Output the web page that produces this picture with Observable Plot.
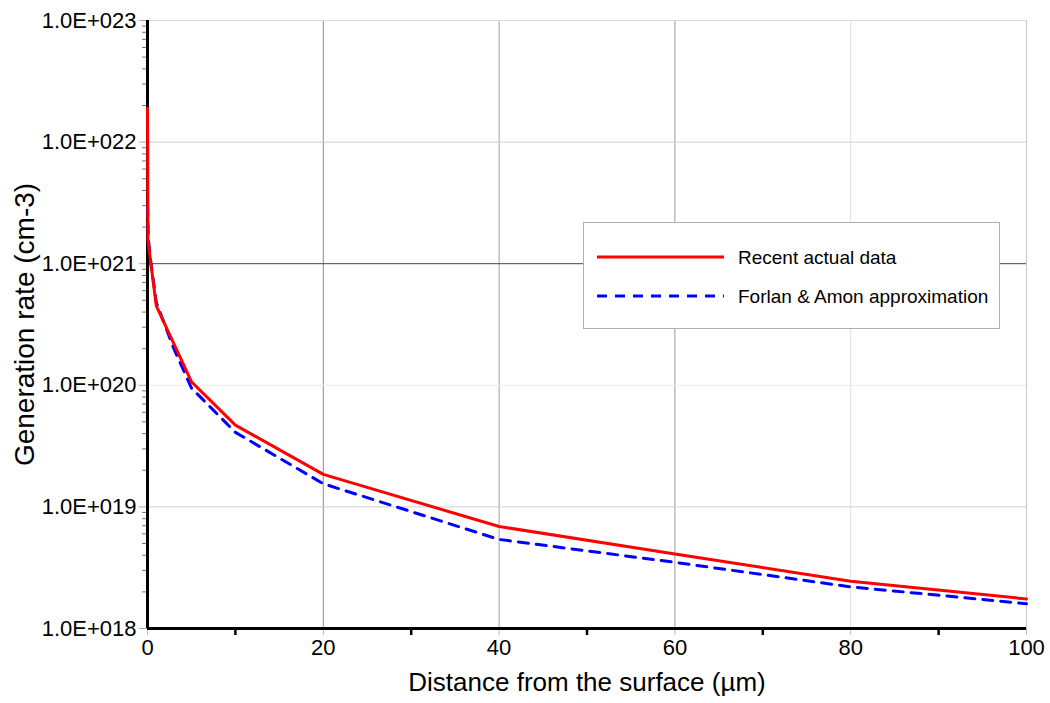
<!DOCTYPE html>
<html>
<head>
<meta charset="utf-8">
<script src="https://cdn.jsdelivr.net/npm/d3@7"></script>
<script src="https://cdn.jsdelivr.net/npm/@observablehq/plot@0.6"></script>
<style>
  body { margin: 0; background: #fff; }
  #wrap { position: relative; width: 1050px; height: 703px; font-family: "Liberation Sans", Arial, sans-serif; }
  #legend { position: absolute; left: 583px; top: 222px; width: 415px; height: 105px; border: 1px solid #b0b0b0; background: #fff; }
  #legend svg { overflow: visible; }
</style>
</head>
<body>
<div id="wrap">
  <div id="chart"></div>
  <div id="legend"></div>
</div>
<script>
// ---- Data ----
const seriesNames = ["Recent actual data", "Forlan & Amon approximation"];
const distanceActual = [0, 0.05, 1, 5, 10, 20, 40, 60, 80, 100];
const rateActual = [1.9e22, 1.55e21, 4.5e20, 1.07e20, 4.7e19, 1.85e19, 6.9e18, 4.1e18, 2.45e18, 1.75e18];
const distanceApprox = [0, 0.1, 0.4, 1, 3, 5, 10, 20, 40, 60, 80, 100];
const rateApprox = [3.0e21, 1.6e21, 1.0e21, 4.8e20, 2.0e20, 9.5e19, 4.1e19, 1.55e19, 5.4e18, 3.5e18, 2.2e18, 1.6e18];
const xTicks = [0, 20, 40, 60, 80, 100];
const xMinorTicks = [10, 30, 50, 70, 90];
const yTicks = [1e18, 1e19, 1e20, 1e21, 1e22, 1e23];
const xTitle = "Distance from the surface (µm)";
const yTitle = "Generation rate (cm-3)";

const actual = distanceActual.map((d, i) => ({x: d, y: rateActual[i]}));
const approx = distanceApprox.map((d, i) => ({x: d, y: rateApprox[i]}));
const yMinor = [];
for (let e = 18; e < 23; e++) for (let m = 2; m <= 9; m++) yMinor.push(m * Math.pow(10, e));
const fmt = d => "1.0E+" + String(Math.round(Math.log10(d))).padStart(3, "0");

const chart = Plot.plot({
  width: 1050, height: 703,
  marginLeft: 147, marginRight: 24, marginTop: 20, marginBottom: 75,
  style: {fontFamily: "Liberation Sans, Arial, sans-serif", fontSize: "22px", color: "black", background: "white", overflow: "visible"},
  x: {domain: [0, 100]},
  y: {type: "log", domain: [1e18, 1e23]},
  marks: [
    Plot.gridX([20], {stroke: "#8c8c8c", strokeOpacity: 1}),
    Plot.gridX([40], {stroke: "#a0a0a0", strokeOpacity: 1}),
    Plot.gridX([60], {stroke: "#9a9a9a", strokeOpacity: 1}),
    Plot.gridX([80], {stroke: "#e0e0e0", strokeOpacity: 1}),
    Plot.gridY([1e19], {stroke: "#d0d0d0", strokeOpacity: 1}),
    Plot.gridY([1e20], {stroke: "#ececec", strokeOpacity: 1}),
    Plot.gridY([1e21], {stroke: "#444", strokeOpacity: 1}),
    Plot.gridY([1e22], {stroke: "#cfcfcf", strokeOpacity: 1}),
    Plot.gridY([1e23], {stroke: "#dcdcdc", strokeOpacity: 1}),
    Plot.ruleX([100], {stroke: "#c8c8c8"}),
    Plot.axisY(yMinor, {tickSize: 5, tickFormat: () => "", stroke: "#777", label: null}),
    Plot.axisY(yTicks, {tickSize: 8, tickPadding: 3, tickFormat: fmt, stroke: "#aaa", fontSize: 22, label: null}),
    Plot.axisX(xTicks, {tickSize: 7, tickPadding: 4, stroke: "#bbb", fontSize: 22, label: null}),
    Plot.axisX(xMinorTicks, {tickSize: 7, strokeWidth: 2.5, stroke: "black", tickFormat: () => "", label: null}),
    Plot.ruleX([0], {stroke: "black", strokeWidth: 3}),
    Plot.ruleY([1e18], {stroke: "black", strokeWidth: 3}),
    Plot.line(approx, {x: "x", y: "y", stroke: "#0000ff", strokeWidth: 3, strokeDasharray: "10,8"}),
    Plot.line(actual, {x: "x", y: "y", stroke: "#ff0000", strokeWidth: 3}),
    Plot.text([xTitle], {frameAnchor: "bottom", dy: 54, lineAnchor: "middle", textAnchor: "middle", fontSize: 26}),
    Plot.text([yTitle], {frameAnchor: "left", dx: -122, rotate: -90, lineAnchor: "middle", textAnchor: "middle", fontSize: 28})
  ]
});
document.getElementById("chart").appendChild(chart);

// ---- Legend ----
const lg = d3.select("#legend").append("svg").attr("width", 415).attr("height", 105);
const rows = [
  {name: seriesNames[0], stroke: "#ff0000", dash: null},
  {name: seriesNames[1], stroke: "#0000ff", dash: "10,8"}
];
rows.forEach((r, i) => {
  const cy = 34 + i * 39;
  lg.append("line").attr("x1", 13).attr("x2", 140).attr("y1", cy).attr("y2", cy)
    .attr("stroke", r.stroke).attr("stroke-width", 3).attr("stroke-dasharray", r.dash);
  lg.append("text").attr("x", 154).attr("y", cy).attr("dy", "0.35em")
    .attr("font-family", "Liberation Sans, Arial, sans-serif").attr("font-size", 19)
    .text(r.name);
});
</script>
</body>
</html>
